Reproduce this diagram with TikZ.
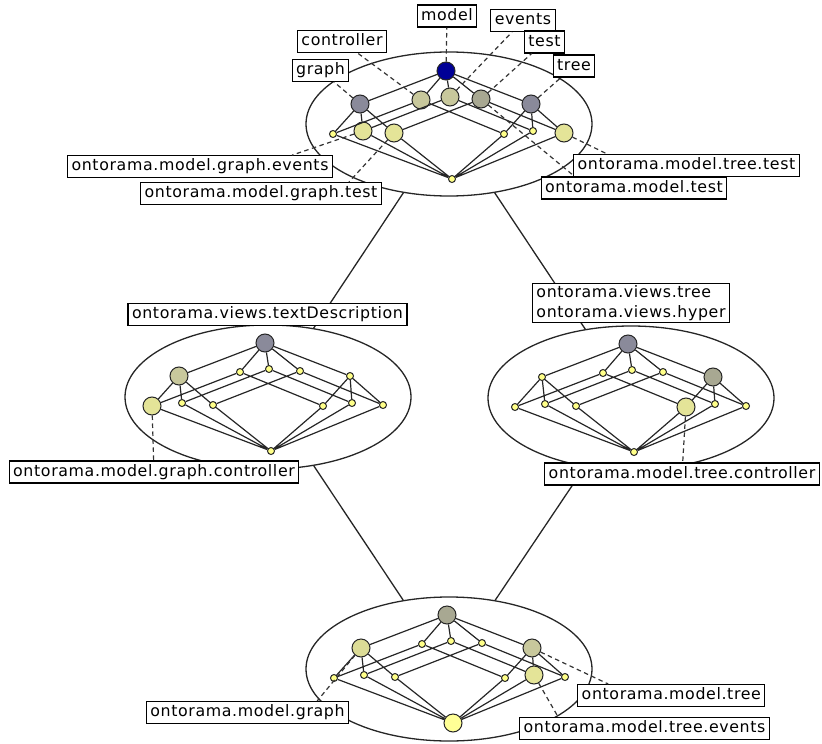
\documentclass[tikz,border=0pt]{standalone}
\usepackage{fontspec}
\setmainfont{DejaVu Sans}
\newfontfamily\labelfamily[LetterSpace=4]{DejaVu Sans}
\usetikzlibrary{shapes.geometric}

\definecolor{topblue}{RGB}{0,0,150}
\definecolor{slate}{RGB}{138,138,154}
\definecolor{khaki}{RGB}{200,200,156}
\definecolor{olivegray}{RGB}{168,168,146}
\definecolor{wheat}{RGB}{220,220,150}
\definecolor{straw}{RGB}{228,228,152}
\definecolor{pale}{RGB}{255,255,136}
\definecolor{lemon}{RGB}{255,255,150}

\tikzset{
  concept/.style={circle, draw=black!85, line width=1pt, fill=pale,
    minimum size=7pt, inner sep=0pt},
  largeconcept/.style={minimum size=18pt},
  latticeline/.style={draw=black!85, line width=1.2pt},
  extentring/.style={ellipse, draw=black!85, line width=1.3pt,
    minimum width=286pt, minimum height=144pt, inner sep=0pt},
  ringlink/.style={draw=black!85, line width=1.3pt},
  labelbox/.style={draw=black, line width=1.1pt, fill=white,
    font=\labelfamily\fontsize{15.8}{19}\selectfont,
    inner xsep=4pt, inner ysep=3.25pt, text height=12pt, text depth=3.5pt},
  twolinebox/.style={draw=black, line width=1.1pt, fill=white,
    font=\labelfamily\fontsize{15.8}{20}\selectfont,
    inner xsep=4pt, inner ysep=2pt, align=left},
  labelleader/.style={draw=black!80, line width=1.2pt, dash pattern=on 4.5pt off 3.5pt},
  cT/.style={}, cL/.style={}, cMa/.style={}, cMb/.style={}, cMc/.style={},
  cR/.style={}, cLa/.style={}, cLb/.style={}, cLc/.style={},
  cRa/.style={}, cRb/.style={}, cRc/.style={}, cB/.style={},
}

% One concept lattice: #1 name prefix, #2 position of its top concept,
% #3 styles of the concepts that are drawn large.
\newcommand\conceptlattice[3]{%
  \begin{scope}[shift={#2}, #3]
    \node[concept, cT]  (#1T)  at (0,0)     {};
    \node[concept, cL]  (#1L)  at (-86,33)  {};
    \node[concept, cMa] (#1Ma) at (-25,29)  {};
    \node[concept, cMb] (#1Mb) at (4,26)    {};
    \node[concept, cMc] (#1Mc) at (35,28)   {};
    \node[concept, cR]  (#1R)  at (85,33)   {};
    \node[concept, cLa] (#1La) at (-113,63) {};
    \node[concept, cLb] (#1Lb) at (-83,60)  {};
    \node[concept, cLc] (#1Lc) at (-52,62)  {};
    \node[concept, cRa] (#1Ra) at (58,63)   {};
    \node[concept, cRb] (#1Rb) at (87,60)   {};
    \node[concept, cRc] (#1Rc) at (118,62)  {};
    \node[concept, cB]  (#1B)  at (6,108)   {};
    \draw[latticeline]
      (#1T) -- (#1L)   (#1T) -- (#1Ma)  (#1T) -- (#1Mb)  (#1T) -- (#1Mc)  (#1T) -- (#1R)
      (#1L) -- (#1La)  (#1L) -- (#1Lb)  (#1L) -- (#1Lc)
      (#1R) -- (#1Ra)  (#1R) -- (#1Rb)  (#1R) -- (#1Rc)
      (#1Ma) -- (#1La) (#1Ma) -- (#1Ra)
      (#1Mb) -- (#1Lb) (#1Mb) -- (#1Rb)
      (#1Mc) -- (#1Lc) (#1Mc) -- (#1Rc)
      (#1B) -- (#1La)  (#1B) -- (#1Lb)  (#1B) -- (#1Lc)
      (#1B) -- (#1Ra)  (#1B) -- (#1Rb)  (#1B) -- (#1Rc);
  \end{scope}}

\begin{document}
\begin{tikzpicture}[x=1pt, y=-1pt]
\useasboundingbox (0,0) rectangle (822,744);

% nested diagram: four outer concepts, each holding an inner lattice
\node[extentring] (ringTop)    at (449,124) {};
\node[extentring] (ringLeft)   at (268,397) {};
\node[extentring] (ringRight)  at (631,398) {};
\node[extentring] (ringBottom) at (449,669) {};

\draw[ringlink] (ringTop) -- (ringLeft)  (ringTop) -- (ringRight)
                (ringLeft) -- (ringBottom) (ringRight) -- (ringBottom);

\conceptlattice{t}{(446,71)}{cT/.style={largeconcept,fill=topblue},
  cL/.style={largeconcept,fill=slate}, cMa/.style={largeconcept,fill=khaki},
  cMb/.style={largeconcept,fill=khaki}, cMc/.style={largeconcept,fill=olivegray},
  cR/.style={largeconcept,fill=slate}, cLb/.style={largeconcept,fill=straw},
  cLc/.style={largeconcept,fill=straw}, cRc/.style={largeconcept,fill=straw}}
\conceptlattice{l}{(265,343)}{cT/.style={largeconcept,fill=slate},
  cL/.style={largeconcept,fill=khaki}, cLa/.style={largeconcept,fill=straw}}
\conceptlattice{r}{(628,344)}{cT/.style={largeconcept,fill=slate},
  cR/.style={largeconcept,fill=olivegray}, cRa/.style={largeconcept,fill=straw}}
\conceptlattice{b}{(447,615)}{cT/.style={largeconcept,fill=olivegray},
  cL/.style={largeconcept,fill=wheat}, cR/.style={largeconcept,fill=khaki},
  cRb/.style={largeconcept,fill=straw}, cB/.style={largeconcept,fill=lemon}}

% attribute labels of the outer top lattice
\node[labelbox] (aModel)      at (447,16)    {model};
\node[labelbox] (aEvents)     at (523,20.5)  {events};
\node[labelbox] (aTest)       at (544.5,42)  {test};
\node[labelbox] (aController) at (342,41.5)  {controller};
\node[labelbox] (aGraph)      at (320.5,70.5){graph};
\node[labelbox] (aTree)       at (574,66)    {tree};

% object labels
\node[labelbox] (oGraphEvents) at (200,166.7)  {ontorama.model.graph.events};
\node[labelbox] (oGraphTest)   at (261,193.5)  {ontorama.model.graph.test};
\node[labelbox] (oTreeTest)    at (686.5,165.5){ontorama.model.tree.test};
\node[labelbox] (oModelTest)   at (634,188)    {ontorama.model.test};
\node[labelbox] (oTextDescr)   at (267.5,314.7){ontorama.views.textDescription};
\node[twolinebox] (oViews)     at (631,303.3)  {ontorama.views.tree\\ontorama.views.hyper};
\node[labelbox] (oGraphCtl)    at (154,472)    {ontorama.model.graph.controller};
\node[labelbox] (oTreeCtl)     at (682,474)    {ontorama.model.tree.controller};
\node[labelbox] (oModelGraph)  at (247.5,712.5){ontorama.model.graph};
\node[labelbox] (oModelTree)   at (671.3,695.5){ontorama.model.tree};
\node[labelbox] (oTreeEvents)  at (644.5,728.3){ontorama.model.tree.events};

% dashed leaders from concepts to their labels
\draw[labelleader] (tT) -- (aModel);
\draw[labelleader] (tMb) -- (aEvents);
\draw[labelleader] (tMc) -- (aTest);
\draw[labelleader] (tMa) -- (aController);
\draw[labelleader] (tL) -- (aGraph);
\draw[labelleader] (tR) -- (aTree);
\draw[labelleader] (tLb) -- ([xshift=-41pt]oGraphEvents.north east);
\draw[labelleader] (tLc) -- ([xshift=-33pt]oGraphTest.north east);
\draw[labelleader] (tRc) -- ([xshift=34pt]oTreeTest.north west);
\draw[labelleader] (tMc) -- ([xshift=34pt]oModelTest.north west);
\draw[labelleader] (lLa) -- (oGraphCtl);
\draw[labelleader] (rRa) -- (oTreeCtl);
\draw[labelleader] (bL) -- ([xshift=-32pt]oModelGraph.north east);
\draw[labelleader] (bR) -- ([xshift=31pt]oModelTree.north west);
\draw[labelleader] (bRb) -- ([xshift=39pt]oTreeEvents.north west);
\end{tikzpicture}
\end{document}
